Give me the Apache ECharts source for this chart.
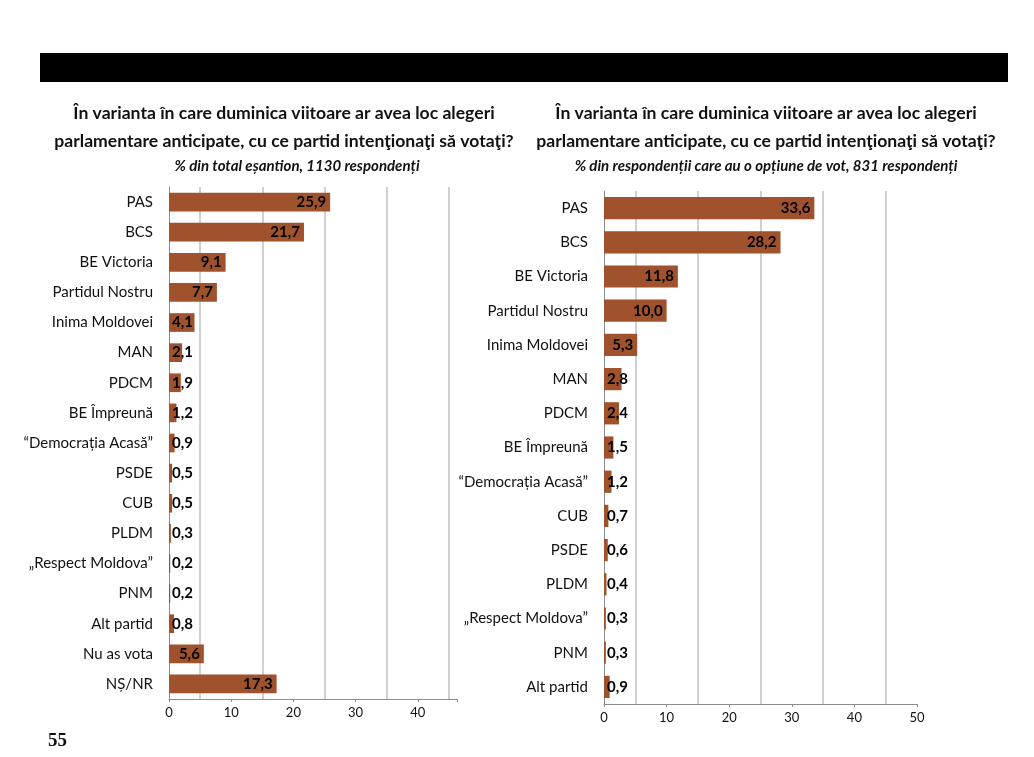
<!DOCTYPE html>
<html>
<head>
<meta charset="utf-8">
<script src="https://cdn.jsdelivr.net/npm/echarts@6/dist/echarts.min.js"></script>
<style>
html,body{margin:0;padding:0;background:#fff;}
#c{width:1034px;height:757px;}
</style>
</head>
<body>
<div id="c"></div>
<script>
// ---- data ----
const leftCategories = ['PAS','BCS','BE Victoria','Partidul Nostru','Inima Moldovei','MAN','PDCM','BE Împreună','“Democrația Acasă”','PSDE','CUB','PLDM','„Respect Moldova”','PNM','Alt partid','Nu as vota','NȘ/NR'];
const leftValues = [25.9,21.7,9.1,7.7,4.1,2.1,1.9,1.2,0.9,0.5,0.5,0.3,0.2,0.2,0.8,5.6,17.3];
const rightCategories = ['PAS','BCS','BE Victoria','Partidul Nostru','Inima Moldovei','MAN','PDCM','BE Împreună','“Democrația Acasă”','CUB','PSDE','PLDM','„Respect Moldova”','PNM','Alt partid'];
const rightValues = [33.6,28.2,11.8,10.0,5.3,2.8,2.4,1.5,1.2,0.7,0.6,0.4,0.3,0.3,0.9];
const leftTicks = [0,10,20,30,40];
const rightTicks = [0,10,20,30,40,50];
const gridValues = [5,15,25,35,45];
const titleText = 'În varianta în care duminica viitoare ar avea loc alegeri\nparlamentare anticipate, cu ce partid intenţionaţi să votaţi?';
const leftSubtitle = '% din total eșantion, 1130 respondenți';
const rightSubtitle = '% din respondenții care au o opțiune de vot, 831 respondenți';
const pageNumber = '55';

// ---- styles ----
const FONT = 'Lato, "Open Sans", sans-serif';
const BAR = '#A0522D';
const fmt = v => v.toFixed(1).replace('.', ',');

function barData(vals){
  return vals.map(v => ({
    value: v,
    label: v >= 5 ? {position:'insideRight', distance:4} : {position:'insideLeft', distance:3}
  }));
}
function xAxis(idx, max){
  return {
    type:'value', gridIndex: idx, min:0, max:max, interval:10,
    axisLine:{show:true, lineStyle:{color:'#8c8c8c', width:1}},
    axisTick:{show:true, length:3, lineStyle:{color:'#8c8c8c'}},
    axisLabel:{color:'#111', fontFamily:FONT, fontSize:13, margin:7,
      formatter: v => (idx===0?leftTicks:rightTicks).indexOf(v)>=0 ? String(v) : ''},
    splitLine:{show:false}
  };
}
function yAxis(idx, cats){
  return {
    type:'category', gridIndex: idx, data: cats, inverse:true,
    axisLine:{show:true, lineStyle:{color:'#8c8c8c', width:1}},
    axisTick:{show:false},
    axisLabel:{color:'#111', fontFamily:FONT, fontSize:15, margin:16},
    splitLine:{show:false}
  };
}
function series(idx, vals, gap){
  return {
    type:'bar', xAxisIndex: idx, yAxisIndex: idx, z:2,
    data: barData(vals), barCategoryGap: gap,
    itemStyle:{color:BAR},
    label:{show:true, formatter: p => fmt(p.value), color:'#000', fontFamily:FONT, fontWeight:'bold', fontSize:15},
    markLine:{
      silent:true, symbol:'none', z:1, animation:false,
      label:{show:false},
      lineStyle:{color:'#c0c0c0', type:'solid', width:1.5},
      data: gridValues.map(g => ({xAxis:g}))
    },
    animation:false
  };
}

const chart = echarts.init(document.getElementById('c'), null, {renderer:'canvas'});
chart.setOption({
  backgroundColor:'#fff',
  animation:false,
  title:[
    {text:titleText, left:279, top:94, textAlign:'center',
     textStyle:{fontFamily:FONT, fontWeight:'bold', fontSize:17.6, lineHeight:28, color:'#111'}},
    {text:leftSubtitle, left:292, top:154, textAlign:'center',
     textStyle:{fontFamily:FONT, fontWeight:'bold', fontStyle:'italic', fontSize:15, color:'#111'}},
    {text:titleText, left:761, top:94, textAlign:'center',
     textStyle:{fontFamily:FONT, fontWeight:'bold', fontSize:17.6, lineHeight:28, color:'#111'}},
    {text:rightSubtitle, left:761, top:154, textAlign:'center',
     textStyle:{fontFamily:FONT, fontWeight:'bold', fontStyle:'italic', fontSize:15, color:'#111'}},
    {text:pageNumber, left:43, top:727,
     textStyle:{fontFamily:'"Liberation Serif", serif', fontWeight:'bold', fontSize:19, color:'#111'}}
  ],
  graphic:[
    {type:'rect', shape:{x:40, y:53, width:968, height:29}, style:{fill:'#000'}}
  ],
  grid:[
    {left:169, top:187, width:288, height:512},
    {left:604, top:191, width:313, height:513}
  ],
  xAxis:[xAxis(0, 46.3), xAxis(1, 50)],
  yAxis:[yAxis(0, leftCategories), yAxis(1, rightCategories)],
  series:[series(0, leftValues, '38%'), series(1, rightValues, '35%')]
});
</script>
</body>
</html>
